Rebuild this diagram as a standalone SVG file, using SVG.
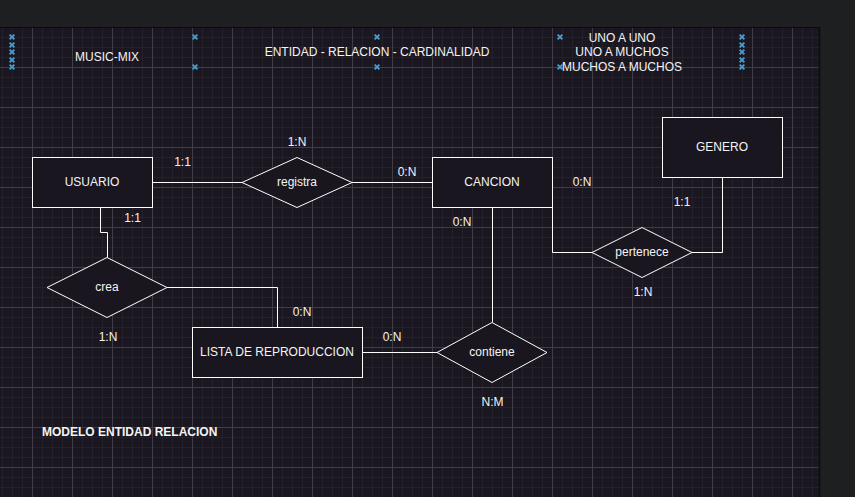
<svg xmlns="http://www.w3.org/2000/svg" width="855" height="497" viewBox="0 0 855 497">
<defs>
<pattern id="minor" patternUnits="userSpaceOnUse" x="2" y="7" width="10" height="10">
<path d="M0,0.5 H10 M0.5,0 V10" fill="none" stroke="#24212c" stroke-width="1"/>
</pattern>
<pattern id="major" patternUnits="userSpaceOnUse" x="32" y="27" width="40" height="40">
<path d="M0,0.5 H40 M0.5,0 V40" fill="none" stroke="#403d48" stroke-width="1"/>
</pattern>
<path id="xm" d="M-2.4,-2.4 L2.4,2.4 M-2.4,2.4 L2.4,-2.4" fill="none" stroke="#4a9cce" stroke-width="1.9"/>
</defs>
<style>
.ent{fill:#19161f;stroke:#ffffff;stroke-width:1}
.rel{fill:#19161f;stroke:#ffffff;stroke-width:1}
.con{fill:none;stroke:#ffffff;stroke-width:1}
text{font-family:"Liberation Sans",Arial,Helvetica,sans-serif;font-size:12px;fill:#f4f4f4;text-anchor:middle}
.b{font-weight:bold}
</style>
<rect x="0" y="0" width="855" height="497" fill="#1e1f21"/>
<rect x="0" y="28" width="819" height="469" fill="#1a1720"/>
<rect x="0" y="28" width="819" height="469" fill="url(#minor)"/>
<rect x="0" y="28" width="819" height="469" fill="url(#major)"/>
<line x1="0" y1="27.5" x2="819" y2="27.5" stroke="#0c0c0c" stroke-width="1"/>
<line x1="819.5" y1="27" x2="819.5" y2="497" stroke="#0c0c0c" stroke-width="1.5"/>

<g id="handles">
<use href="#xm" x="12" y="37"/><use href="#xm" x="12" y="45"/><use href="#xm" x="12" y="52"/><use href="#xm" x="12" y="60"/><use href="#xm" x="12" y="67"/>
<use href="#xm" x="195" y="37"/><use href="#xm" x="195" y="67"/>
<use href="#xm" x="377" y="37"/><use href="#xm" x="377" y="67"/>
<use href="#xm" x="560" y="37"/><use href="#xm" x="560" y="67"/>
<use href="#xm" x="742" y="37"/><use href="#xm" x="742" y="45"/><use href="#xm" x="742" y="52"/><use href="#xm" x="742" y="60"/><use href="#xm" x="742" y="67"/>
</g>

<g id="titles">
<text x="107" y="61">MUSIC-MIX</text>
<text x="377" y="56">ENTIDAD - RELACION - CARDINALIDAD</text>
<text x="622" y="42">UNO A UNO</text>
<text x="622" y="56">UNO A MUCHOS</text>
<text x="622" y="71">MUCHOS A MUCHOS</text>
</g>

<g id="connectors">
<path class="con" d="M152,182.5 H242"/>
<path class="con" d="M352,182.5 H432"/>
<path class="con" d="M100.5,207 V232.5 H107.5 V257"/>
<path class="con" d="M167,287.5 H277.5 V327"/>
<path class="con" d="M362,352.5 H437"/>
<path class="con" d="M492.5,207 V322"/>
<path class="con" d="M552.5,207 V252.5 H592"/>
<path class="con" d="M692,252.5 H722.5 V177"/>
</g>

<g id="usuario">
<rect class="ent" x="32.5" y="157.5" width="120" height="50"/>
<text x="92" y="186">USUARIO</text>
</g>
<g id="registra">
<polygon class="rel" points="242,182.5 297,157.5 352,182.5 297,207.5"/>
<text x="297" y="186">registra</text>
</g>
<g id="cancion">
<rect class="ent" x="432.5" y="157.5" width="120" height="50"/>
<text x="492" y="186">CANCION</text>
</g>
<g id="genero">
<rect class="ent" x="662.5" y="117.5" width="120" height="60"/>
<text x="722" y="151">GENERO</text>
</g>
<g id="pertenece">
<polygon class="rel" points="592,252.5 642,227.5 692,252.5 642,277.5"/>
<text x="642" y="256">pertenece</text>
</g>
<g id="crea">
<polygon class="rel" points="47,287.5 107,257.5 167,287.5 107,317.5"/>
<text x="107" y="291">crea</text>
</g>
<g id="lista">
<rect class="ent" x="192.5" y="327.5" width="170" height="50"/>
<text x="277" y="356">LISTA DE REPRODUCCION</text>
</g>
<g id="contiene">
<polygon class="rel" points="437,352.5 492,322.5 547,352.5 492,382.5"/>
<text x="492" y="356">contiene</text>
</g>

<g id="labels">
<text x="182.5" y="166">1:1</text>
<text x="297" y="146">1:N</text>
<text x="407" y="176">0:N</text>
<text x="132.5" y="222">1:1</text>
<text x="582" y="186">0:N</text>
<text x="682" y="206">1:1</text>
<text x="462" y="226">0:N</text>
<text x="643" y="296">1:N</text>
<text x="108" y="341">1:N</text>
<text x="302" y="316">0:N</text>
<text x="392" y="341">0:N</text>
<text x="492.5" y="406">N:M</text>
<text class="b" x="42" y="436" style="text-anchor:start">MODELO ENTIDAD RELACION</text>
</g>
</svg>
